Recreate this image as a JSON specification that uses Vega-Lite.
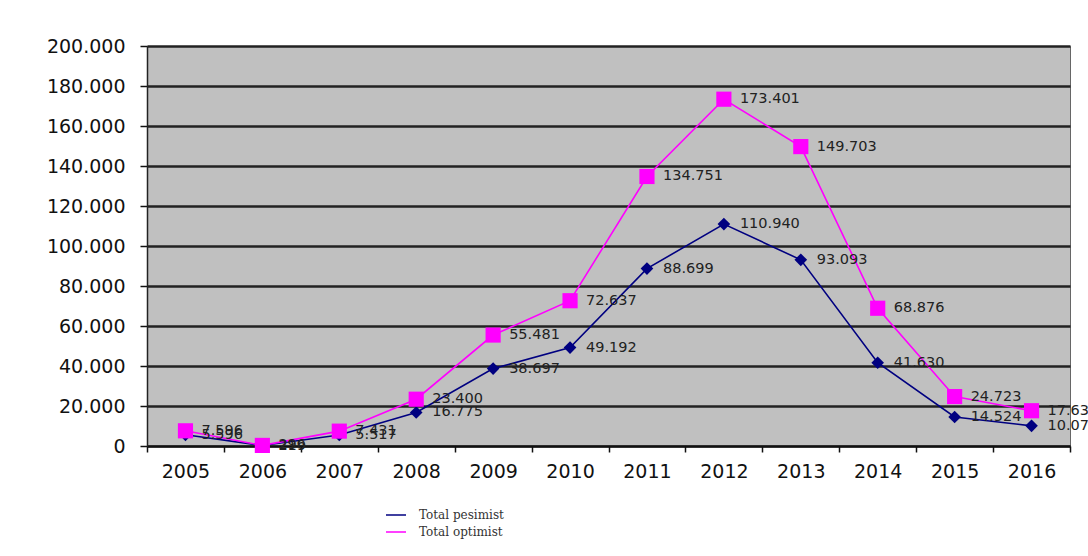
{
  "$schema": "https://vega.github.io/schema/vega-lite/v6.json",
  "width": 923,
  "height": 400,
  "autosize": {"type": "none"},
  "padding": {"left": 147, "top": 46, "right": 18, "bottom": 110},
  "background": "white",
  "config": {
    "locale": {"number": {"decimal": ",", "thousands": ".", "grouping": [3], "currency": ["", ""]}},
    "view": {"fill": "#c0c0c0", "stroke": "#666666", "strokeWidth": 1},
    "font": "DejaVu Sans"
  },
  "data": {
    "values": [
      {"year": "2005", "series": "Total pesimist", "value": 5596},
      {"year": "2006", "series": "Total pesimist", "value": 219},
      {"year": "2007", "series": "Total pesimist", "value": 5517},
      {"year": "2008", "series": "Total pesimist", "value": 16775},
      {"year": "2009", "series": "Total pesimist", "value": 38697},
      {"year": "2010", "series": "Total pesimist", "value": 49192},
      {"year": "2011", "series": "Total pesimist", "value": 88699},
      {"year": "2012", "series": "Total pesimist", "value": 110940},
      {"year": "2013", "series": "Total pesimist", "value": 93093},
      {"year": "2014", "series": "Total pesimist", "value": 41630},
      {"year": "2015", "series": "Total pesimist", "value": 14524},
      {"year": "2016", "series": "Total pesimist", "value": 10070},
      {"year": "2005", "series": "Total optimist", "value": 7596},
      {"year": "2006", "series": "Total optimist", "value": 296},
      {"year": "2007", "series": "Total optimist", "value": 7431},
      {"year": "2008", "series": "Total optimist", "value": 23400},
      {"year": "2009", "series": "Total optimist", "value": 55481},
      {"year": "2010", "series": "Total optimist", "value": 72637},
      {"year": "2011", "series": "Total optimist", "value": 134751},
      {"year": "2012", "series": "Total optimist", "value": 173401},
      {"year": "2013", "series": "Total optimist", "value": 149703},
      {"year": "2014", "series": "Total optimist", "value": 68876},
      {"year": "2015", "series": "Total optimist", "value": 24723},
      {"year": "2016", "series": "Total optimist", "value": 17636}
    ]
  },
  "encoding": {
    "x": {
      "field": "year",
      "type": "ordinal",
      "bandPosition": 0.5,
      "scale": {"type": "band", "paddingInner": 0, "paddingOuter": 0},
      "axis": {
        "title": null,
        "labelAngle": 0,
        "tickBand": "extent",
        "tickSize": 6,
        "tickColor": "#111111",
        "tickWidth": 1.5,
        "domainColor": "#111111",
        "domainWidth": 2,
        "labelFont": "DejaVu Sans",
        "labelFontSize": 19,
        "labelColor": "#111111",
        "labelPadding": 10,
        "grid": false
      }
    },
    "y": {
      "field": "value",
      "type": "quantitative",
      "scale": {"domain": [0, 200000], "nice": false},
      "axis": {
        "title": null,
        "values": [0, 20000, 40000, 60000, 80000, 100000, 120000, 140000, 160000, 180000, 200000],
        "format": ",d",
        "labelFont": "DejaVu Sans",
        "labelFontSize": 19,
        "labelColor": "#111111",
        "labelPadding": 15,
        "tickSize": 7,
        "tickColor": "#111111",
        "tickWidth": 1.5,
        "domainColor": "#222222",
        "domainWidth": 1.5,
        "grid": true,
        "gridColor": "#222222",
        "gridWidth": 2.5
      }
    }
  },
  "layer": [
    {
      "mark": {"type": "line", "strokeWidth": 1.6},
      "encoding": {
        "color": {
          "field": "series",
          "type": "nominal",
          "scale": {"domain": ["Total pesimist", "Total optimist"], "range": ["#000080", "#ff00ff"]},
          "legend": {
            "orient": "none",
            "legendX": 238,
            "legendY": 458,
            "title": null,
            "symbolType": "stroke",
            "symbolSize": 400,
            "symbolStrokeWidth": 1.5,
            "labelFont": "DejaVu Serif",
            "labelFontSize": 12,
            "labelColor": "#333333",
            "labelOffset": 12,
            "rowPadding": 0
          }
        }
      }
    },
    {
      "mark": {"type": "point", "filled": true, "opacity": 1},
      "encoding": {
        "color": {
          "field": "series",
          "type": "nominal",
          "scale": {"domain": ["Total pesimist", "Total optimist"], "range": ["#000080", "#ff00ff"]},
          "legend": null
        },
        "shape": {"field": "series", "type": "nominal", "scale": {"domain": ["Total pesimist", "Total optimist"], "range": ["diamond", "square"]}, "legend": null},
        "size": {"field": "series", "type": "nominal", "scale": {"domain": ["Total pesimist", "Total optimist"], "range": [160, 230]}, "legend": null}
      }
    },
    {
      "mark": {"type": "text", "align": "left", "baseline": "middle", "dx": 16, "fontSize": 14.5, "font": "DejaVu Sans", "color": "#222222"},
      "encoding": {
        "text": {"field": "value", "type": "quantitative", "format": ",d"}
      }
    }
  ],
  "resolve": {"scale": {"color": "independent", "shape": "independent", "size": "independent"}, "legend": {"color": "independent"}}
}
